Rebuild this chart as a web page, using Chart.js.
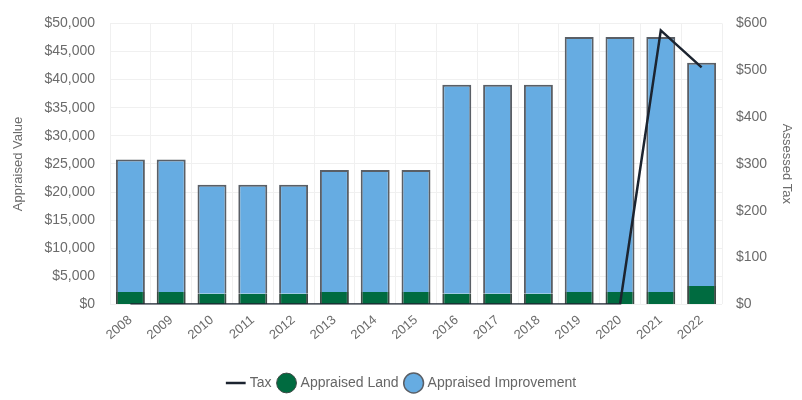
<!DOCTYPE html>
<html><head><meta charset="utf-8">
<script src="https://cdn.jsdelivr.net/npm/chart.js@4/dist/chart.umd.min.js"></script>
<style>html,body{margin:0;padding:0;background:#fff}#wrap{width:802px;height:400px}</style>
</head><body><div id="wrap"><canvas id="c"></canvas></div>
<script>
const years = ["2008","2009","2010","2011","2012","2013","2014","2015","2016","2017","2018","2019","2020","2021","2022"];
const landValues = [2200,2200,1900,1900,1900,2200,2200,2200,1900,1900,1900,2200,2200,2200,3300];
const improvementValues = [23600,23600,19400,19400,19400,21700,21700,21700,37200,37200,37200,45400,45400,45400,39700];
const taxValues = [0,0,0,0,0,0,0,0,0,0,0,0,0,585,506];
const valueTicks = [0,5000,10000,15000,20000,25000,30000,35000,40000,45000,50000];
const taxTicks = [0,100,200,300,400,500,600];

const fmt = v => "$" + v.toLocaleString("en-US");
Chart.defaults.font.family = "'Liberation Sans', Arial, sans-serif";
Chart.defaults.font.size = 14;
Chart.defaults.color = "#6b6b6b";
new Chart(document.getElementById("c"), {
  data: {
    labels: years,
    datasets: [
      {type:"line", label:"Tax", data:taxValues, yAxisID:"yTax", borderColor:"#1c2430", backgroundColor:"#1c2430",
       borderWidth:2.5, pointRadius:0, tension:0, order:0, pointStyle:"line"},
      {type:"bar", label:"Appraised Land", data:landValues, yAxisID:"y", backgroundColor:"#006b40",
       borderColor:"#3c4a44", borderWidth:{top:0,left:2,right:2,bottom:0}, order:1, stack:"s", pointStyle:"circle",
       barPercentage:0.71, categoryPercentage:1},
      {type:"bar", label:"Appraised Improvement", data:improvementValues, yAxisID:"y", backgroundColor:"#66ace2",
       borderColor:"#5a5f66", borderWidth:{top:2,left:2,right:2,bottom:0}, order:2, stack:"s", pointStyle:"circle",
       barPercentage:0.71, categoryPercentage:1}
    ]
  },
  options: {
    responsive:true, maintainAspectRatio:false, animation:false,
    layout:{padding:{left:7,right:4,top:0,bottom:0}},
    plugins:{
      legend:{position:"bottom", labels:{usePointStyle:true, boxHeight:17, padding:8, color:"#666", font:{size:14}}},
      tooltip:{enabled:false}
    },
    scales:{
      x:{stacked:true, grid:{color:"#f0f0f0", drawTicks:false}, border:{display:false},
         afterFit: s => { s.height += 17; },
         ticks:{maxRotation:40, minRotation:40, padding:8, color:"#6b6b6b", font:{size:13}}},
      y:{stacked:true, position:"left", min:0, max:50000,
         afterBuildTicks: a => { a.ticks = valueTicks.map(v => ({value:v})); },
         afterFit: s => { s.width = 103; },
         ticks:{callback:v => fmt(v), padding:15, color:"#6b6b6b"},
         grid:{color:"#f0f0f0", drawTicks:false}, border:{display:false},
         title:{display:true, text:"Appraised Value", color:"#6b6b6b", font:{size:13}}},
      yTax:{position:"right", min:0, max:600,
         afterBuildTicks: a => { a.ticks = taxTicks.map(v => ({value:v})); },
         afterFit: s => { s.width = 76; },
         ticks:{callback:v => fmt(v), padding:14, color:"#6b6b6b"},
         grid:{display:false, drawTicks:false}, border:{display:false},
         title:{display:true, text:"Assessed Tax", color:"#6b6b6b", font:{size:13}}}
    }
  }
});
</script></body></html>
